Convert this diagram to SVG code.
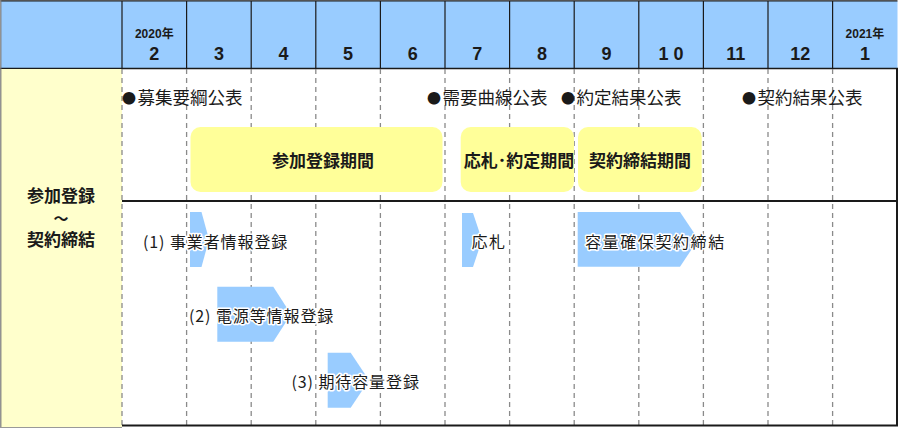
<svg xmlns="http://www.w3.org/2000/svg" width="900" height="430" viewBox="0 0 900 430">
<style>
text{font-family:"Noto Sans CJK JP","Liberation Sans",sans-serif;fill:#1a1a1a}
.num{font-family:"Liberation Sans","Noto Sans CJK JP",sans-serif;font-weight:bold;font-size:18px;text-anchor:middle}
.yr{font-family:"Liberation Sans","Noto Sans CJK JP",sans-serif;font-weight:bold;font-size:12px;text-anchor:middle}
.hl{stroke:#1a1a1a;stroke-width:1.2;fill:none}
.dash{stroke:#8a8a8a;stroke-width:1.3;stroke-dasharray:5 4;fill:none}
.ev{font-size:17.5px}
.dot{font-size:14px}
.per{fill:#FFFF99}
.pt{font-size:17px;font-weight:bold;text-anchor:middle}
.arr{fill:#99CCFF}
.al{font-size:16px;stroke:#fff;stroke-width:3;paint-order:stroke;stroke-linejoin:round}
</style>
<rect x="0" y="0" width="900" height="430" fill="#fff"/>
<g id="header">
<rect x="1" y="1" width="896.5" height="67.5" fill="#99CCFF"/>
<line class="hl" x1="0.5" y1="0.8" x2="897.5" y2="0.8" stroke="#777"/>
<g class="hl">
<line x1="122" y1="1" x2="122" y2="68"/>
<line x1="186.6" y1="1" x2="186.6" y2="68"/>
<line x1="251.2" y1="1" x2="251.2" y2="68"/>
<line x1="315.8" y1="1" x2="315.8" y2="68"/>
<line x1="380.4" y1="1" x2="380.4" y2="68"/>
<line x1="445" y1="1" x2="445" y2="68"/>
<line x1="509.6" y1="1" x2="509.6" y2="68"/>
<line x1="574.2" y1="1" x2="574.2" y2="68"/>
<line x1="638.8" y1="1" x2="638.8" y2="68"/>
<line x1="703.4" y1="1" x2="703.4" y2="68"/>
<line x1="768" y1="1" x2="768" y2="68"/>
<line x1="832.6" y1="1" x2="832.6" y2="68"/>
</g>
<line x1="0" y1="68.5" x2="898" y2="68.5" stroke="#1a1a1a" stroke-width="1.5"/>
<text class="yr" x="154.3" y="37.5">2020年</text>
<text class="num" x="154.3" y="59.5">2</text>
<text class="num" x="218.9" y="59.5">3</text>
<text class="num" x="283.5" y="59.5">4</text>
<text class="num" x="348.1" y="59.5">5</text>
<text class="num" x="412.7" y="59.5">6</text>
<text class="num" x="477.3" y="59.5">7</text>
<text class="num" x="541.9" y="59.5">8</text>
<text class="num" x="606.5" y="59.5">9</text>
<text class="num" x="671.1" y="59.5">1 0</text>
<text class="num" x="735.7" y="59.5">11</text>
<text class="num" x="800.3" y="59.5">12</text>
<text class="yr" x="864.9" y="37.5">2021年</text>
<text class="num" x="864.9" y="59.5">1</text>
</g>
<g id="category">
<rect x="1" y="69" width="121" height="358" fill="#FFFFCC"/>
<line x1="0.8" y1="0" x2="0.8" y2="428" stroke="#777" stroke-width="1.2"/>
<line x1="0" y1="427.5" x2="122" y2="427.5" stroke="#999" stroke-width="1"/>
<text class="pt"><tspan x="61" y="202">参加登録</tspan><tspan x="61" y="224" font-size="15">～</tspan><tspan x="61" y="246">契約締結</tspan></text>
</g>
<g id="grid">
<g class="dash">
<line x1="122" y1="69" x2="122" y2="425"/>
<line x1="186.6" y1="69" x2="186.6" y2="425"/>
<line x1="251.2" y1="69" x2="251.2" y2="425"/>
<line x1="315.8" y1="69" x2="315.8" y2="425"/>
<line x1="380.4" y1="69" x2="380.4" y2="425"/>
<line x1="445" y1="69" x2="445" y2="425"/>
<line x1="509.6" y1="69" x2="509.6" y2="425"/>
<line x1="574.2" y1="69" x2="574.2" y2="425"/>
<line x1="638.8" y1="69" x2="638.8" y2="425"/>
<line x1="703.4" y1="69" x2="703.4" y2="425"/>
<line x1="768" y1="69" x2="768" y2="425"/>
<line x1="832.6" y1="69" x2="832.6" y2="425"/>
</g>
<line x1="122" y1="201" x2="898" y2="201" stroke="#1a1a1a" stroke-width="2"/>
<line x1="122" y1="425.5" x2="898" y2="425.5" stroke="#1a1a1a" stroke-width="2"/>
<line x1="897" y1="68" x2="897" y2="426" stroke="#1a1a1a" stroke-width="2"/>
</g>
<g id="events">
<text class="ev" y="104"><tspan class="dot" x="122" dy="-1">●</tspan><tspan x="137.5" dy="1">募集要綱公表</tspan></text>
<text class="ev" y="104"><tspan class="dot" x="427" dy="-1">●</tspan><tspan x="442.5" dy="1">需要曲線公表</tspan></text>
<text class="ev" y="104"><tspan class="dot" x="561" dy="-1">●</tspan><tspan x="576.5" dy="1">約定結果公表</tspan></text>
<text class="ev" y="104"><tspan class="dot" x="742" dy="-1">●</tspan><tspan x="757.5" dy="1">契約結果公表</tspan></text>
</g>
<g id="period-registration">
<rect class="per" x="190.5" y="127" width="252" height="65" rx="10"/>
<text class="pt" x="323" y="166.5">参加登録期間</text>
</g>
<g id="period-bid">
<rect class="per" x="460.7" y="127" width="113.3" height="65" rx="10"/>
<text class="pt" x="519" y="166.5">応札･約定期間</text>
</g>
<g id="period-contract">
<rect class="per" x="578" y="127" width="123.7" height="65" rx="10"/>
<text class="pt" x="640" y="166.5">契約締結期間</text>
</g>
<g id="step1">
<polygon class="arr" points="190,212 201.5,212 209,239.5 201.5,267 190,267"/>
<text class="al" x="143" y="248" letter-spacing="0.9">(1) 事業者情報登録</text>
</g>
<g id="step-bid">
<polygon class="arr" points="462,213 473,213 482,240 473,267 462,267"/>
<text class="al" x="471.5" y="248" letter-spacing="1.5">応札</text>
</g>
<g id="step-contract">
<polygon class="arr" points="577.7,212 680,212 698.3,239.3 680,266.7 577.7,266.7"/>
<text class="al" x="585" y="248" letter-spacing="1.6">容量確保契約締結</text>
</g>
<g id="step2">
<polygon class="arr" points="217.3,286.7 273.3,286.7 291,314.2 273.3,341.7 217.3,341.7"/>
<text class="al" x="189" y="322" letter-spacing="0.9">(2) 電源等情報登録</text>
</g>
<g id="step3">
<polygon class="arr" points="327.7,352.7 350.7,352.7 369,380.2 350.7,407.7 327.7,407.7"/>
<text class="al" x="291.5" y="388" letter-spacing="0.9">(3) 期待容量登録</text>
</g>
</svg>
